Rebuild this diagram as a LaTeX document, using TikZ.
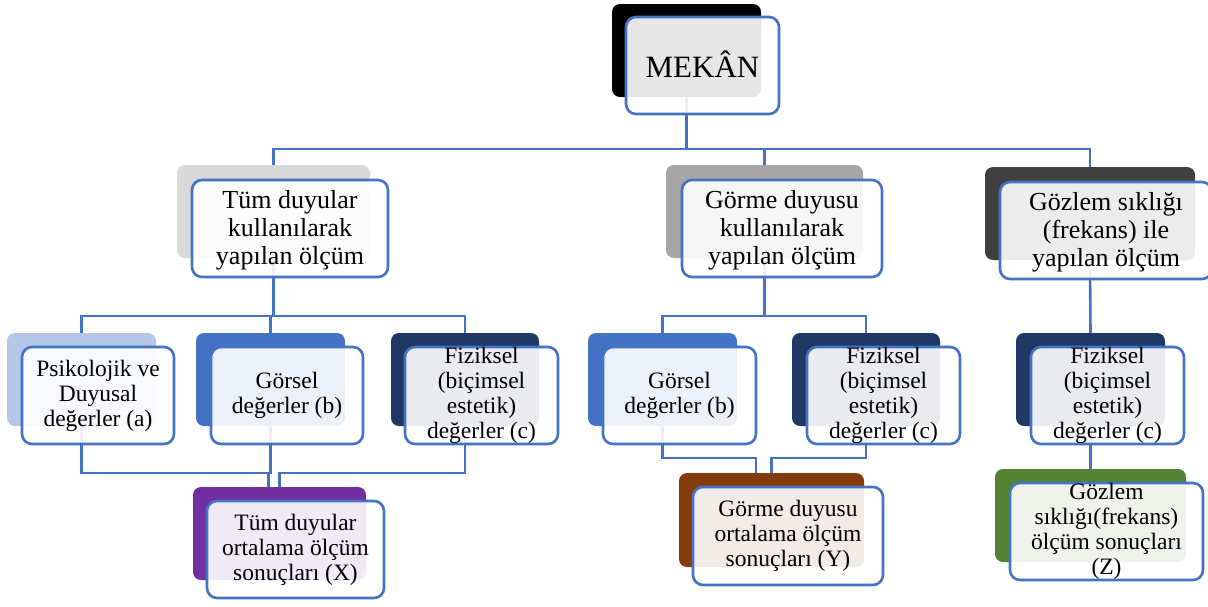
\documentclass[tikz,border=0pt]{standalone}
\usepackage{fontspec}
\setmainfont{Liberation Serif}
\definecolor{lnblue}{HTML}{4472C4}
\definecolor{gA}{HTML}{D9D9D9}
\definecolor{gB}{HTML}{A6A6A6}
\definecolor{gC}{HTML}{404040}
\definecolor{lblue}{HTML}{B4C7E7}
\definecolor{mblue}{HTML}{4472C4}
\definecolor{dblue}{HTML}{203864}
\definecolor{purp}{HTML}{7030A0}
\definecolor{brwn}{HTML}{843C0C}
\definecolor{grn}{HTML}{548235}
\begin{document}
\begin{tikzpicture}[x=1pt,y=-1pt,
  conn/.style={draw=lnblue,line width=2.6pt},
  back/.style={rounded corners=8pt,inner sep=0pt,outer sep=0pt,minimum height=93pt},
  front/.style={draw=lnblue,line width=2.6pt,rounded corners=10pt,fill=white,fill opacity=0.9,inner sep=0pt,outer sep=0pt,minimum height=97pt},
  txt/.style={align=center,inner sep=0pt,text=black},
  fa/.style={txt,font=\fontsize{31}{34}\selectfont},
  fb/.style={txt,font=\fontsize{26}{28}\selectfont},
  fc/.style={txt,font=\fontsize{23.5}{25}\selectfont}]
\useasboundingbox (0,0) rectangle (1208,606);
% back blocks
\node[back,fill=black,minimum width=149pt] (m) at (686.5,50.5) {};
\node[back,fill=gA,minimum width=193pt] (a) at (273.5,211.5) {};
\node[back,fill=gB,minimum width=197pt] (b) at (764.5,211.5) {};
\node[back,fill=gC,minimum width=210pt] (c) at (1090,213.5) {};
\node[back,fill=lblue,minimum width=149pt] (pa) at (81.5,379.5) {};
\node[back,fill=mblue,minimum width=149pt] (ga) at (270.5,379.5) {};
\node[back,fill=dblue,minimum width=148pt] (fa) at (465,379.5) {};
\node[back,fill=mblue,minimum width=149pt] (gb) at (662.5,379.5) {};
\node[back,fill=dblue,minimum width=148pt] (fb) at (866,379.5) {};
\node[back,fill=dblue,minimum width=149pt] (fc) at (1090.5,379.5) {};
\node[back,fill=purp,minimum width=173pt] (x) at (279.5,533.5) {};
\node[back,fill=brwn,minimum width=185pt,minimum height=94pt] (y) at (771.5,520) {};
\node[back,fill=grn,minimum width=191pt] (z) at (1090.5,515.5) {};
% bus levels
\coordinate (bus1) at (0,149);
\coordinate (bus2) at (0,316);
\coordinate (busx) at (0,473);
\coordinate (busy) at (0,458);
\coordinate (xl) at ([xshift=-11pt]x.north);
\coordinate (yl) at ([xshift=-15.5pt]y.north);
% connectors
\draw[conn] (m.south) |- (a.north |- bus1) -- (a.north);
\draw[conn] (m.south) |- (b.north |- bus1) -- (b.north);
\draw[conn] (m.south) |- (c.north |- bus1) -- (c.north);
\draw[conn] (a.south) |- (pa.north |- bus2) -- (pa.north);
\draw[conn] (a.south) |- (ga.north |- bus2) -- (ga.north);
\draw[conn] (a.south) |- (fa.north |- bus2) -- (fa.north);
\draw[conn] (b.south) |- (gb.north |- bus2) -- (gb.north);
\draw[conn] (b.south) |- (fb.north |- bus2) -- (fb.north);
\draw[conn] (c.south) -- (fc.north);
\draw[conn] (pa.south) |- (xl |- busx) -- (xl);
\draw[conn] (ga.south) |- (xl |- busx) -- (xl);
\draw[conn] (fa.south) |- (x.north |- busx) -- (x.north);
\draw[conn] (gb.south) |- (yl |- busy) -- (yl);
\draw[conn] (fb.south) |- (y.north |- busy) -- (y.north);
\draw[conn] (fc.south) -- (z.north);
% front blocks
\node[front,minimum width=153pt] (mf) at (702.5,65.5) {};
\node[front,minimum width=196pt] (af) at (290,228.5) {};
\node[front,minimum width=200pt] (bf) at (782,228.5) {};
\node[front,minimum width=212pt] (cf) at (1106,230.5) {};
\node[front,minimum width=152pt] (paf) at (98,395.5) {};
\node[front,minimum width=152pt] (gaf) at (287,395.5) {};
\node[front,minimum width=153pt] (faf) at (481.5,395.5) {};
\node[front,minimum width=153pt] (gbf) at (679.5,395.5) {};
\node[front,minimum width=153pt] (fbf) at (883.5,395.5) {};
\node[front,minimum width=153pt] (fcf) at (1107.5,395.5) {};
\node[front,minimum width=177pt] (xf) at (295.5,549.5) {};
\node[front,minimum width=190pt,minimum height=98pt] (yf) at (788,536) {};
\node[front,minimum width=193pt] (zf) at (1106.5,531.5) {};
% texts
\node[fa,anchor=base] (mt) at (702.5,77) {MEKÂN};
\node[fb] (at) at ([yshift=-2pt]af.center) {Tüm duyular\\kullanılarak\\yapılan ölçüm};
\node[fb] (bt) at ([yshift=-2pt]bf.center) {Görme duyusu\\kullanılarak\\yapılan ölçüm};
\node[fb] (ct) at ([yshift=-2pt]cf.center) {Gözlem sıklığı\\(frekans) ile\\yapılan ölçüm};
\node[fc] (pat) at (paf.center) {Psikolojik ve\\Duyusal\\değerler (a)};
\node[fc] (gat) at (gaf.center) {Görsel\\değerler (b)};
\node[fc] (fat) at (faf.center) {Fiziksel\\(biçimsel\\estetik)\\değerler (c)};
\node[fc] (gbt) at (gbf.center) {Görsel\\değerler (b)};
\node[fc] (fbt) at (fbf.center) {Fiziksel\\(biçimsel\\estetik)\\değerler (c)};
\node[fc] (fct) at (fcf.center) {Fiziksel\\(biçimsel\\estetik)\\değerler (c)};
\node[fc] (xt) at (xf.center) {Tüm duyular\\ortalama ölçüm\\sonuçları (X)};
\node[fc] (yt) at (yf.center) {Görme duyusu\\ortalama ölçüm\\sonuçları (Y)};
\node[fc] (zt) at (zf.center) {Gözlem\\sıklığı(frekans)\\ölçüm sonuçları\\(Z)};
\end{tikzpicture}
\end{document}
